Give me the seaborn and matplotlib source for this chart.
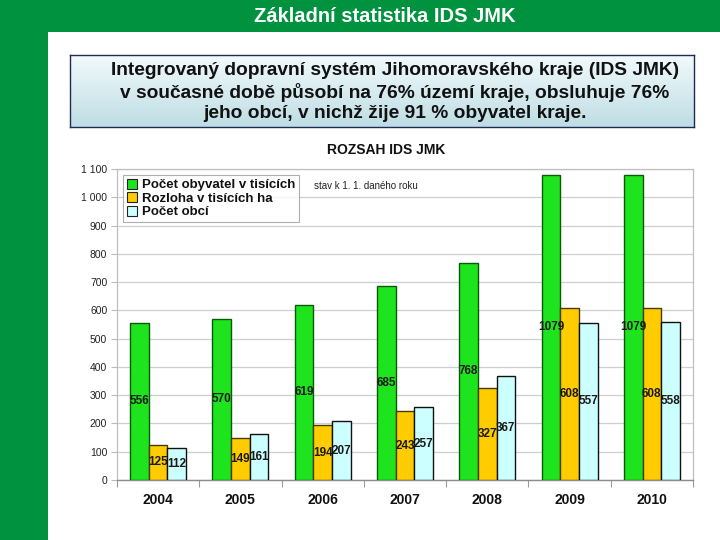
import numpy as np
import pandas as pd
import matplotlib
matplotlib.use("Agg")
import matplotlib.pyplot as plt
import seaborn as sns
from matplotlib.patches import Rectangle, Patch

# ---- data ----
years = ["2004", "2005", "2006", "2007", "2008", "2009", "2010"]
obyvatel = [556, 570, 619, 685, 768, 1079, 1079]
rozloha = [125, 149, 194, 243, 327, 608, 608]
obci = [112, 161, 207, 257, 367, 557, 558]
series_names = ["Počet obyvatel v tisících", "Rozloha v tisících ha", "Počet obcí"]
y_ticks = [0, 100, 200, 300, 400, 500, 600, 700, 800, 900, 1000, 1100]
y_tick_labels = ["0", "100", "200", "300", "400", "500", "600", "700", "800",
                 "900", "1 000", "1 100"]
page_title = "Základní statistika IDS JMK"
box_text = ("Integrovaný dopravní systém Jihomoravského kraje (IDS JMK)\n"
            "v současné době působí na 76% území kraje, obsluhuje 76%\n"
            "jeho obcí, v nichž žije 91 % obyvatel kraje.")
chart_title = "ROZSAH IDS JMK"
note = "stav k 1. 1. daného roku"

colors = ["#1EE41E", "#FFCC00", "#CCFFFF"]
edges = ["#0B5A0B", "#4A3A00", "#111111"]

df = pd.DataFrame({
    "year": years * 3,
    "series": [series_names[0]] * 7 + [series_names[1]] * 7 + [series_names[2]] * 7,
    "value": obyvatel + rozloha + obci,
})

sns.set_theme(style="white")
plt.rcParams["font.family"] = ["Liberation Sans", "DejaVu Sans"]

W, H = 720, 540
fig = plt.figure(figsize=(7.2, 5.4), dpi=100)
fig.patch.set_facecolor("white")

green = "#00923F"
fig.patches.append(Rectangle((0, 0), 48 / W, 1, transform=fig.transFigure,
                             facecolor=green, edgecolor="none", zorder=0))
fig.patches.append(Rectangle((0, 1 - 32 / H), 1, 32 / H, transform=fig.transFigure,
                             facecolor=green, edgecolor="none", zorder=0))
fig.text(385 / W, 1 - 17 / H, page_title, color="white", fontsize=14.5,
         fontweight="bold", ha="center", va="center")

# gradient text box
bx = fig.add_axes([70 / W, 1 - 127 / H, 624 / W, 72 / H])
top_c = np.array([0xF2, 0xFA, 0xFC]) / 255
bot_c = np.array([0xBE, 0xDD, 0xE4]) / 255
t = np.linspace(0, 1, 100)[:, None]
grad = top_c[None, None, :] * (1 - t[:, :, None]) + bot_c[None, None, :] * t[:, :, None]
grad = np.repeat(grad, 2, axis=1)
bx.imshow(grad, aspect="auto", extent=[0, 1, 0, 1])
bx.set_xlim(0, 1)
bx.set_ylim(0, 1)
bx.set_xticks([])
bx.set_yticks([])
for s in bx.spines.values():
    s.set_color("#1F2A55")
    s.set_linewidth(1.0)
fig.text(395 / W, 1 - 92 / H, box_text, ha="center", va="center",
         fontsize=13.8, fontweight="bold", color="#111111", linespacing=1.27,
         multialignment="center")

# main chart
ax = fig.add_axes([117 / W, 60 / H, 576 / W, 311 / H])
sns.barplot(data=df, x="year", y="value", hue="series", palette=colors,
            width=0.68, ax=ax, saturation=1, zorder=3)

for cont, ec in zip(ax.containers, edges):
    for bar in cont:
        bar.set_edgecolor(ec)
        bar.set_linewidth(1.0)
    ax.bar_label(cont, label_type="center", fontsize=8.5, fontweight="bold",
                 color="#1a1a1a", padding=0)

ax.set_xlim(-0.5, 6.5)
ax.set_ylim(0, 1100)
ax.set_yticks(y_ticks)
ax.set_yticklabels(y_tick_labels, fontsize=7.5, color="#222222")
ax.yaxis.grid(True, color="#CFCFCF", linewidth=0.9, zorder=0)
ax.set_axisbelow(True)
ax.tick_params(axis="y", length=4, width=0.8, color="#BBBBBB", pad=3, left=True)
ax.set_xticks(range(len(years)))
ax.set_xticklabels(years, fontsize=10, fontweight="bold", color="#111111")
ax.tick_params(axis="x", which="major", length=0, pad=9)
ax.set_xticks(np.arange(-0.5, 7, 1), minor=True)
ax.tick_params(axis="x", which="minor", length=5, width=0.8, color="#999999",
               bottom=True, direction="out")
ax.set_xlabel("")
ax.set_ylabel("")
for side in ["left", "top", "right"]:
    ax.spines[side].set_color("#BFBFBF")
    ax.spines[side].set_linewidth(0.9)
ax.spines["bottom"].set_color("#8C8C8C")
ax.spines["bottom"].set_linewidth(1.0)

handles = [Patch(facecolor=c, edgecolor="#222222", linewidth=0.8) for c in colors]
leg = ax.legend(handles, series_names, loc="upper left",
                bbox_to_anchor=(6 / 576, (480 - 175) / 311), borderaxespad=0,
                frameon=True, fancybox=False, handlelength=0.8, handleheight=0.8,
                handletextpad=0.35, labelspacing=0.06, borderpad=0.28,
                prop={"weight": "bold", "size": 9.5})
leg.get_frame().set_edgecolor("#9A9A9A")
leg.get_frame().set_linewidth(0.8)
for txt in leg.get_texts():
    txt.set_color("#111111")

fig.text(386 / W, 1 - 150 / H, chart_title, ha="center", va="center",
         fontsize=10, fontweight="bold", color="#111111")
fig.text(314 / W, 1 - 186 / H, note, ha="left", va="center",
         fontsize=7, color="#222222")

fig.savefig("out.png", dpi=100)
